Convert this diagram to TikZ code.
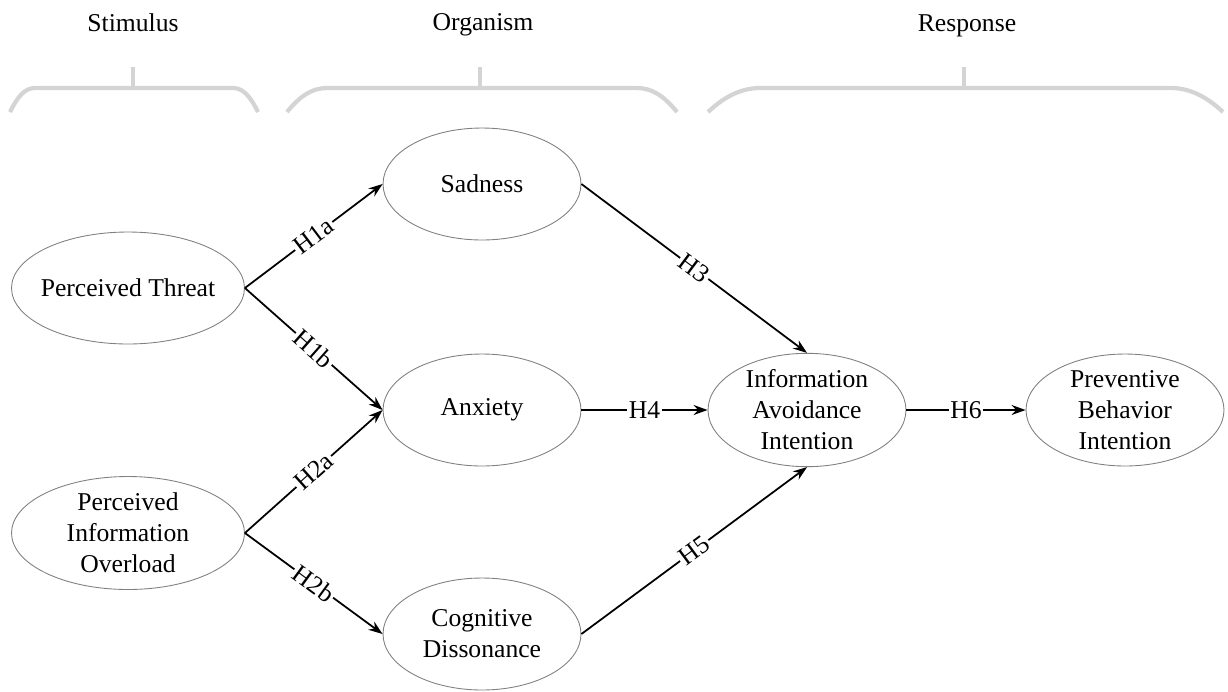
\documentclass[tikz,border=0pt]{standalone}
\usepackage{fontspec}
\setmainfont{Liberation Serif}
\usetikzlibrary{arrows.meta, shapes.geometric}
\tikzset{
  construct/.style={draw=gray, line width=0.5pt, ellipse, align=center, inner sep=0pt,
    inner xsep=-0.3cm, minimum width=3.96cm, minimum height=2.24cm},
  outer/.style={construct, minimum width=4.66cm, minimum height=2.24cm},
  link/.style={-{Stealth[length=0.28cm, width=0.2cm]}, line width=1pt},
  hyp/.style={midway, sloped, fill=white, inner sep=1pt},
  brace/.style={draw=black!17, line width=2.4pt},
  stage/.style={anchor=base},
}
\begin{document}
\begin{tikzpicture}[x=0.02cm, y=-0.02cm, font=\fontsize{14.6}{17.6}\selectfont]
                \useasboundingbox (0,0) rectangle (1228,691);
                % stages
                \node[stage] (stim) at (133,31) {Stimulus};
                \node[stage] (org) at (483,30) {Organism};
                \node[stage] (resp) at (967,31) {Response};
                \draw[brace] (10,112) .. controls (18,96) and (25,88) .. (35,88) -- (233,88) .. controls (243,88) and (250,96) .. (258,112);
                \draw[brace] (133,88) -- (133,67);
                \draw[brace] (287,112) .. controls (300,96) and (312,88) .. (327,88) -- (637,88) .. controls (652,88) and (664,96) .. (677,112);
                \draw[brace] (480,88) -- (480,67);
                \draw[brace] (708,112) .. controls (725,96) and (742,88) .. (760,88) -- (1171,88) .. controls (1189,88) and (1206,96) .. (1223,112);
                \draw[brace] (964,88) -- (964,67);
                % constructs
                \node[outer] (threat) at (128,288) {Perceived Threat};
                \node[outer] (overload) at (128,533) {Perceived\\Information\\Overload};
                \node[construct] (sadness) at (482,184) {Sadness};
                \node[construct] (anxiety) at (482,410) {Anxiety};
                \node[construct] (dissonance) at (482,634) {Cognitive\\Dissonance};
                \node[construct] (avoidance) at (807,410) {Information\\Avoidance\\Intention};
                \node[construct] (preventive) at (1125,410) {Preventive\\Behavior\\Intention};
                % hypotheses
                \draw[link] (threat.east) -- (sadness.west) node[hyp] {H1a};
                \draw[link] (threat.east) -- (anxiety.west) node[hyp] {H1b};
                \draw[link] (overload.east) -- (anxiety.west) node[hyp] {H2a};
                \draw[link] (overload.east) -- (dissonance.west) node[hyp] {H2b};
                \draw[link] (sadness.east) -- (avoidance.north) node[hyp] {H3};
                \draw[link] (anxiety.east) -- (avoidance.west) node[hyp] {H4};
                \draw[link] (dissonance.east) -- (avoidance.south) node[hyp] {H5};
                \draw[link] (avoidance.east) -- (preventive.west) node[hyp] {H6};
            \end{tikzpicture}
\end{document}
